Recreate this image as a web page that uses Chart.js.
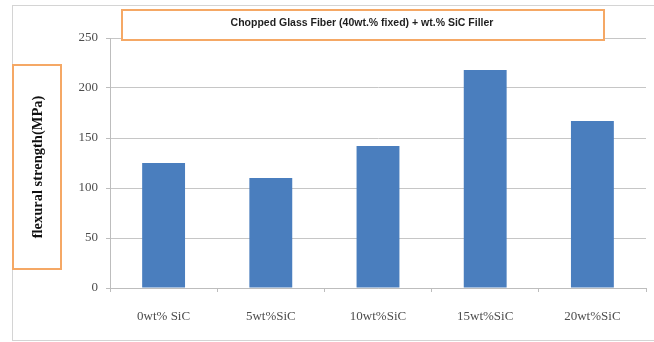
<!DOCTYPE html>
<html>
<head>
<meta charset="utf-8">
<script src="https://cdn.jsdelivr.net/npm/chart.js@4.4.1/dist/chart.umd.min.js"></script>
<style>
  html, body { margin: 0; padding: 0; background: #ffffff; }
  canvas { display: block; }
</style>
</head>
<body>
<canvas id="flexChart" width="654" height="342"></canvas>
<script>
// flexural strength per SiC loading
const categories = ["0wt% SiC", "5wt%SiC", "10wt%SiC", "15wt%SiC", "20wt%SiC"];
const strengthValues = [125, 110, 142, 218, 167];
const yTicks = [0, 50, 100, 150, 200, 250];
const chartTitle = "Chopped Glass Fiber (40wt.% fixed) + wt.% SiC Filler";
const yTitle = "flexural strength(MPa)";

const orange = "#f5a865";
const frameGray = "#d4d4d4";

// outer frame + the two boxed captions
const boxes = {
  id: "boxes",
  beforeDraw(chart) {
    const ctx = chart.ctx;
    ctx.save();
    ctx.strokeStyle = frameGray;
    ctx.lineWidth = 1;
    ctx.strokeRect(12.5, 5.5, 660, 335);
    ctx.restore();
  },
  afterDraw(chart) {
    const ctx = chart.ctx;
    ctx.save();
    // title box
    ctx.fillStyle = "#ffffff";
    ctx.fillRect(122, 10, 482, 30);
    ctx.strokeStyle = orange;
    ctx.lineWidth = 2;
    ctx.strokeRect(122, 10, 482, 30);
    ctx.fillStyle = "#1f1f1f";
    ctx.font = "bold 10.5px 'Liberation Sans', Arial, sans-serif";
    ctx.textAlign = "center";
    ctx.textBaseline = "middle";
    ctx.fillText(chartTitle, 362, 23);

    // y-axis title box
    ctx.strokeRect(13, 65, 48, 204);
    ctx.translate(38, 167);
    ctx.rotate(-Math.PI / 2);
    ctx.fillStyle = "#111111";
    ctx.font = "bold 14.5px 'Liberation Serif', 'Times New Roman', serif";
    ctx.fillText(yTitle, 0, 0);
    ctx.restore();
  }
};

new Chart(document.getElementById("flexChart"), {
  type: "bar",
  data: {
    labels: categories,
    datasets: [{
      data: strengthValues,
      backgroundColor: "#4a7ebe",
      categoryPercentage: 1.0,
      barPercentage: 0.4
    }]
  },
  options: {
    responsive: false,
    animation: false,
    layout: { padding: { left: 70, top: 38, right: 8, bottom: 0 } },
    plugins: { legend: { display: false }, tooltip: { enabled: false } },
    scales: {
      y: {
        min: 0,
        max: 250,
        afterBuildTicks(scale) { scale.ticks = yTicks.map(v => ({ value: v })); },
        afterFit(scale) { scale.width = 40; },
        grid: { color: "#c6c6c6", lineWidth: 1, tickLength: 4, tickColor: "#bdbdbd" },
        border: { display: true, color: "#bdbdbd" },
        ticks: {
          padding: 8,
          color: "#4d4d4d",
          font: { family: "'Liberation Serif', 'Times New Roman', serif", size: 13 }
        }
      },
      x: {
        afterFit(scale) { scale.height = 54; },
        grid: { display: true, drawOnChartArea: false, tickLength: 4, tickColor: "#bdbdbd" },
        border: { display: true, color: "#bdbdbd" },
        ticks: {
          padding: 17,
          color: "#4d4d4d",
          maxRotation: 0,
          font: { family: "'Liberation Serif', 'Times New Roman', serif", size: 13 }
        }
      }
    }
  },
  plugins: [boxes]
});
</script>
</body>
</html>
